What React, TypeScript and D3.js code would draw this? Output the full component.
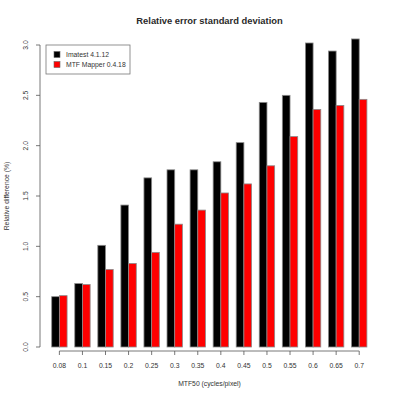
import React, { useRef, useEffect } from 'react';
import * as d3 from 'd3';

const categories = ['0.08', '0.1', '0.15', '0.2', '0.25', '0.3', '0.35', '0.4', '0.45', '0.5', '0.55', '0.6', '0.65', '0.7'];
const seriesNames = ['Imatest 4.1.12', 'MTF Mapper 0.4.18'];
const imatest = [0.50, 0.63, 1.01, 1.41, 1.68, 1.76, 1.76, 1.84, 2.03, 2.43, 2.50, 3.02, 2.94, 3.06];
const mtfMapper = [0.51, 0.62, 0.77, 0.83, 0.94, 1.22, 1.36, 1.53, 1.62, 1.80, 2.09, 2.36, 2.40, 2.46];
const yTicks = [0, 0.5, 1, 1.5, 2, 2.5, 3];
const colors = ['#000000', '#ff0000'];

const width = 400;
const height = 400;

const App = () => {
    const svgRef = useRef<SVGSVGElement | null>(null);

    useEffect(() => {
        const svg = d3.select(svgRef.current);
        svg.selectAll('*').remove();

        const plot = { left: 39, right: 380, top: 45, bottom: 347 };
        const font = '"Liberation Sans", Arial, sans-serif';

        const xScale = d3
            .scaleBand()
            .domain(categories)
            .range([51.7, 366.9])
            .paddingInner(1 / 3)
            .paddingOuter(0);

        const xInner = d3
            .scaleBand()
            .domain(seriesNames)
            .range([0, xScale.bandwidth()]);

        const yScale = d3.scaleLinear().domain([0, 3]).range([plot.bottom, plot.top]);

        const rows = categories.map((c, i) => ({ cat: c, values: [imatest[i], mtfMapper[i]] }));

        // Draw bars
        svg
            .append('g')
            .selectAll('g')
            .data(rows)
            .join('g')
            .attr('transform', (d) => `translate(${xScale(d.cat)},0)`)
            .selectAll('rect')
            .data((d) => d.values.map((v, j) => ({ v, j })))
            .join('rect')
            .attr('x', (d) => xInner(seriesNames[d.j])!)
            .attr('y', (d) => yScale(d.v))
            .attr('width', xInner.bandwidth())
            .attr('height', (d) => yScale(0) - yScale(d.v))
            .attr('fill', (d) => colors[d.j])
            .attr('stroke', '#8a8a8a')
            .attr('stroke-width', 0.8);

        // x axis
        const center = (c: string) => xScale(c)! + xScale.bandwidth() / 2;
        const xAxisY = 351;
        const xg = svg.append('g').attr('stroke', '#555').attr('stroke-width', 0.8);
        xg.append('line')
            .attr('x1', center(categories[0]))
            .attr('x2', center(categories[categories.length - 1]))
            .attr('y1', xAxisY)
            .attr('y2', xAxisY);
        xg.selectAll('line.tick')
            .data(categories)
            .join('line')
            .attr('class', 'tick')
            .attr('x1', center)
            .attr('x2', center)
            .attr('y1', xAxisY)
            .attr('y2', xAxisY + 4);
        svg.append('g')
            .selectAll('text')
            .data(categories)
            .join('text')
            .attr('x', center)
            .attr('y', 368)
            .attr('text-anchor', 'middle')
            .attr('font-family', font)
            .attr('font-size', 6.8)
            .attr('fill', '#333')
            .text((d) => d);

        // y axis
        const yAxisX = 40;
        const yg = svg.append('g').attr('stroke', '#555').attr('stroke-width', 0.8);
        yg.append('line')
            .attr('x1', yAxisX)
            .attr('x2', yAxisX)
            .attr('y1', yScale(0))
            .attr('y2', yScale(3));
        yg.selectAll('line.tick')
            .data(yTicks)
            .join('line')
            .attr('class', 'tick')
            .attr('x1', yAxisX - 4)
            .attr('x2', yAxisX)
            .attr('y1', (d) => yScale(d))
            .attr('y2', (d) => yScale(d));
        svg.append('g')
            .selectAll('text')
            .data(yTicks)
            .join('text')
            .attr('transform', (d) => `translate(28,${yScale(d)}) rotate(-90)`)
            .attr('text-anchor', 'middle')
            .attr('font-family', font)
            .attr('font-size', 6.8)
            .attr('fill', '#333')
            .text((d) => d3.format('.1f')(d));

        // Axis titles
        svg.append('text')
            .attr('transform', `translate(9,${(plot.top + plot.bottom) / 2}) rotate(-90)`)
            .attr('text-anchor', 'middle')
            .attr('font-family', font)
            .attr('font-size', 6.8)
            .attr('fill', '#333')
            .text('Relative difference (%)');
        svg.append('text')
            .attr('x', (plot.left + plot.right) / 2)
            .attr('y', 386)
            .attr('text-anchor', 'middle')
            .attr('font-family', font)
            .attr('font-size', 6.8)
            .attr('fill', '#333')
            .text('MTF50 (cycles/pixel)');

        // Title
        svg.append('text')
            .attr('x', (plot.left + plot.right) / 2)
            .attr('y', 24)
            .attr('text-anchor', 'middle')
            .attr('font-family', font)
            .attr('font-weight', 'bold')
            .attr('font-size', 9.4)
            .attr('fill', '#2a2a2a')
            .text('Relative error standard deviation');

        // Legend
        const legend = svg.append('g').attr('transform', 'translate(46,45)');
        legend.append('rect')
            .attr('width', 84)
            .attr('height', 29)
            .attr('fill', '#fff')
            .attr('stroke', '#777')
            .attr('stroke-width', 0.8);
        legend
            .selectAll('g')
            .data(seriesNames)
            .join('g')
            .attr('transform', (d, i) => `translate(8,${9.5 + i * 10})`)
            .call((g) => {
                g.append('rect')
                    .attr('width', 6)
                    .attr('height', 6)
                    .attr('y', -3)
                    .attr('fill', (d, i) => colors[i])
                    .attr('stroke', '#666')
                    .attr('stroke-width', 0.6);
                g.append('text')
                    .attr('x', 12)
                    .attr('y', 0)
                    .attr('dy', '0.35em')
                    .attr('font-family', font)
                    .attr('font-size', 6.8)
                    .attr('fill', '#333')
                    .text((d) => d);
            });
    }, []);

    return (
        <svg
            ref={svgRef}
            width={width}
            height={height}
            style={{ position: 'absolute', left: 0, top: 0, background: '#fff' }}
        ></svg>
    );
};

export default App;
